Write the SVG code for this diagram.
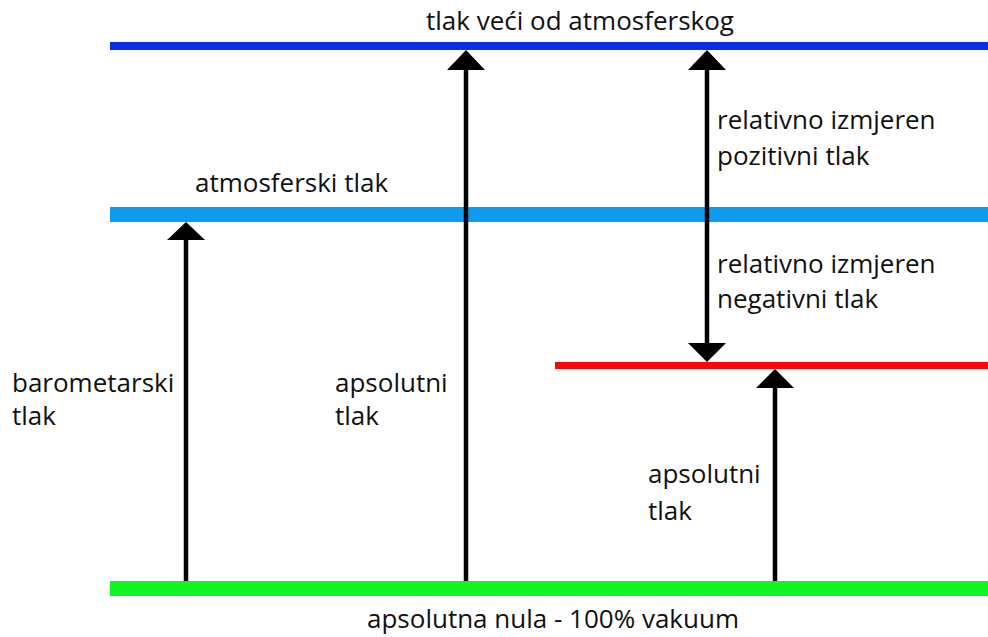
<svg xmlns="http://www.w3.org/2000/svg" width="988" height="637" viewBox="0 0 988 637">
<style>
text{font-family:"Open Sans","Liberation Sans",sans-serif;font-size:26px;fill:#111}
.shaft{stroke:#000;stroke-width:4.5;fill:none}
.head{fill:#000}
</style>
<rect width="988" height="637" fill="#fff"/>
<g id="level-high">
<rect x="110" y="42" width="878" height="8" fill="#0a2ee6"/>
<text x="580" y="30" text-anchor="middle">tlak veći od atmosferskog</text>
</g>
<g id="level-atm">
<rect x="110" y="207" width="878" height="15" fill="#0c9bee"/>
<text x="195" y="192">atmosferski tlak</text>
</g>
<g id="level-neg">
<rect x="555" y="362" width="433" height="7" fill="#ff0505"/>
</g>
<g id="level-zero">
<rect x="110" y="581" width="878" height="15" fill="#12f525"/>
<text x="553" y="628" text-anchor="middle">apsolutna nula - 100% vakuum</text>
</g>
<g id="connectors">
<line class="shaft" x1="186" y1="581" x2="186" y2="238"/>
<polygon class="head" points="186,222 167,240 205,240"/>
<line class="shaft" x1="466" y1="581" x2="466" y2="68"/>
<polygon class="head" points="466,50 447,70 485,70"/>
<line class="shaft" x1="707" y1="68" x2="707" y2="344"/>
<polygon class="head" points="707,50 688,70 726,70"/>
<polygon class="head" points="707,362 688,343 726,343"/>
<line class="shaft" x1="775" y1="581" x2="775" y2="386"/>
<polygon class="head" points="775,369 756,388 794,388"/>
</g>
<g id="label-baro">
<text x="12" y="392">barometarski</text>
<text x="12" y="425">tlak</text>
</g>
<g id="label-abs1">
<text x="335" y="392">apsolutni</text>
<text x="335" y="425">tlak</text>
</g>
<g id="label-pos">
<text x="717" y="129">relativno izmjeren</text>
<text x="717" y="165">pozitivni tlak</text>
</g>
<g id="label-neg">
<text x="717" y="273">relativno izmjeren</text>
<text x="717" y="308">negativni tlak</text>
</g>
<g id="label-abs2">
<text x="648" y="483">apsolutni</text>
<text x="648" y="520">tlak</text>
</g>
</svg>
